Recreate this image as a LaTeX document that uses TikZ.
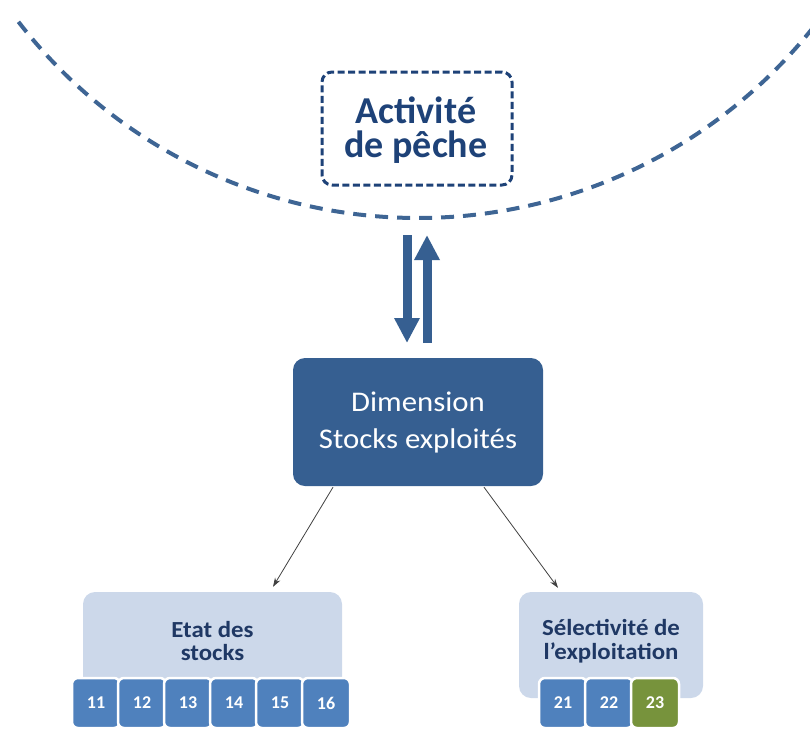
\documentclass[tikz,border=0pt]{standalone}
\usepackage{fontspec}
\setmainfont{Carlito}
\newfontfamily\widefont{Carlito}[FakeStretch=1.08]
\usetikzlibrary{arrows.meta,calc}

\definecolor{arcblue}{RGB}{62,101,148}
\definecolor{navy}{RGB}{30,66,120}
\definecolor{dimblue}{RGB}{54,95,145}
\definecolor{paleblue}{RGB}{204,216,234}
\definecolor{tabblue}{RGB}{79,129,189}
\definecolor{tabgreen}{RGB}{119,147,60}
\definecolor{darknavy}{RGB}{31,56,100}
\definecolor{linkgray}{RGB}{64,64,64}

\tikzset{
  activitybox/.style={draw=navy, line width=3pt, dash pattern=on 7pt off 3.5pt,
    rounded corners=10pt, minimum width=190pt, minimum height=113pt},
  activitytext/.style={text=navy, align=center, font=\fontsize{38}{34.5}\selectfont\bfseries},
  dimbox/.style={fill=dimblue, rounded corners=12pt, minimum width=250pt,
    minimum height=128pt, align=center, text=white,
    font=\widefont\fontsize{28.5}{37}\selectfont},
  groupbox/.style={fill=paleblue, rounded corners=12pt, minimum height=106pt},
  grouptext/.style={text=darknavy, align=center, font=\widefont\fontsize{23}{23.5}\selectfont\bfseries},
  tab/.style={fill=tabblue, draw=white, line width=2.5pt, rounded corners=6pt,
    minimum width=48pt, minimum height=50pt, inner sep=0pt, text=white,
    font=\fontsize{18}{18}\selectfont\bfseries},
  tabgr/.style={tab, fill=tabgreen},
  flow/.style={draw=dimblue, line width=9pt, -{Triangle[width=24pt,length=25pt]}},
  link/.style={draw=linkgray, line width=0.8pt, -{Stealth[length=9pt,width=6pt]}}
}

\begin{document}
\begin{tikzpicture}[x=1pt,y=-1pt]
  \useasboundingbox (0,0) rectangle (810,732);
  \clip (0,0) rectangle (810,732);

  % boundary of the fishing activity
  \draw[arcblue, line width=4pt, dash pattern=on 13pt off 9pt]
    (418,-287) ++(142.3:505) arc[start angle=142.3, end angle=33, radius=505];

  \node[activitybox] (act) at (417,128.5) {};
  \node[activitytext] (actlabel) at (416,130) {Activité\\de pêche};

  % two-way exchange
  \coordinate (downTop) at (407,235);
  \coordinate (downEnd) at (407,343);
  \coordinate (upStart) at (427,343);
  \coordinate (upEnd) at (427,235);
  \draw[flow] (downTop) -- (downEnd);
  \draw[flow] (upStart) -- (upEnd);

  \node[dimbox] (dim) at (418,422) {Dimension\\Stocks exploités};

  % sub-dimensions
  \node[groupbox, minimum width=259pt] (etat) at (212.5,645) {};
  \node[groupbox, minimum width=184pt] (sel) at (611,645) {};
  \node[grouptext] (etatlabel) at (212.5,641) {Etat des\\stocks};
  \node[grouptext] (sellabel) at (611,641) {Sélectivité de\\l’exploitation};

  \draw[link] ($(dim.south)+(-85,1)$) -- ($(etat.north)+(60.5,-5)$);
  \draw[link] ($(dim.south)+(66,1)$) -- ($(sel.north)+(-53,-4)$);

  % indicator tabs
  \node[tab] (t11) at (96,703) {11};
  \node[tab] (t12) at (142,703) {12};
  \node[tab] (t13) at (188,703) {13};
  \node[tab] (t14) at (234,703) {14};
  \node[tab] (t15) at (280,703) {15};
  \node[tab] (t16) at (326,703) {16};

  \node[tab] (t21) at (563,703) {21};
  \node[tab] (t22) at (609,703) {22};
  \node[tabgr] (t23) at (655,703) {23};
\end{tikzpicture}
\end{document}
